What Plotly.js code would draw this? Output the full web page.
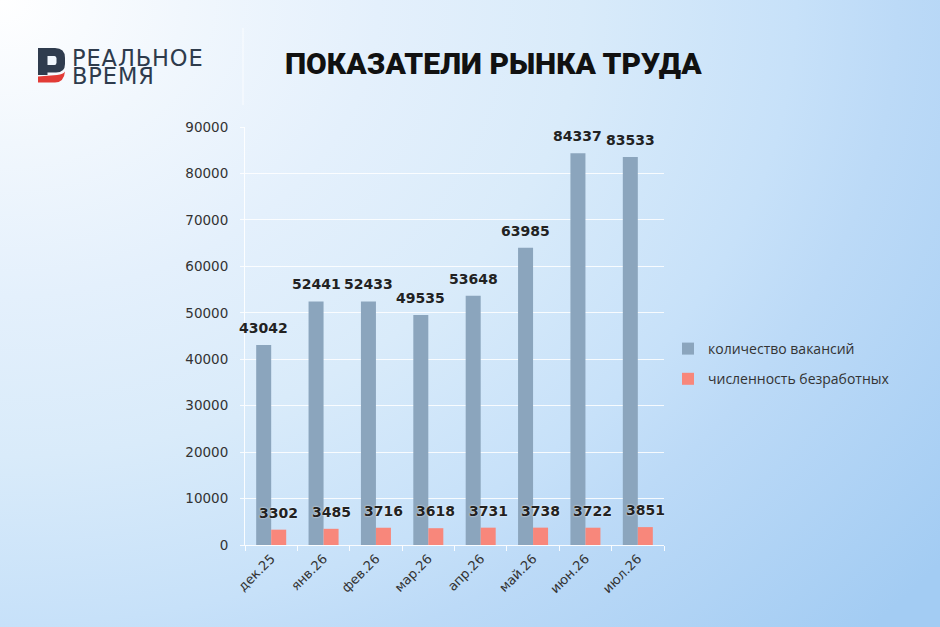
<!DOCTYPE html>
<html>
<head>
<meta charset="utf-8">
<script src="https://cdn.plot.ly/plotly-3.0.1.min.js"></script>
<style>
html,body{margin:0;padding:0;}
body{width:940px;height:627px;overflow:hidden;position:relative;
background:radial-gradient(ellipse 1020px 800px at 0 0,#ffffff 0%,#f1f7fd 18%,#e4f0fc 37%,#d9ebfa 57%,#c7e1f9 78%,#bcdaf7 88%,#a3ccf3 116%);}
#chart{width:940px;height:627px;}
.logo{position:absolute;left:72px;font-family:'DejaVu Sans',sans-serif;font-size:22.5px;
color:#2e3b4c;line-height:18px;height:18px;white-space:nowrap;letter-spacing:0.9px;}
</style>
</head>
<body>
<div id="chart"></div>
<div class="logo" style="top:48.5px">РЕАЛЬНОЕ</div>
<div class="logo" style="top:66.5px">ВРЕМЯ</div>
<script>
var categories = ["дек.25","янв.26","фев.26","мар.26","апр.26","май.26","июн.26","июл.26"];
var vacancies = [43042,52441,52433,49535,53648,63985,84337,83533];
var unemployed = [3302,3485,3716,3618,3731,3738,3722,3851];
var seriesNames = ["количество вакансий","численность безработных"];
var yTicks = [0,10000,20000,30000,40000,50000,60000,70000,80000,90000];

var W = 940, H = 627;
var M = {l:245, r:276, t:127, b:82};
var pw = W - M.l - M.r, ph = H - M.t - M.b;
function px(x){ return (x - M.l) / pw; }
function py(y){ return (H - M.b - y) / ph; }
function pathPx(cmds){
  return cmds.map(function(c){
    var s = c[0];
    for (var i = 1; i < c.length; i += 2) {
      s += (i > 1 ? ' ' : '') + px(c[i]).toFixed(5) + ',' + py(c[i+1]).toFixed(5);
    }
    return s;
  }).join(' ') + ' Z';
}

var blue = '#8ba5bd', red = '#f8877b';

var traces = [
  {type:'bar', x:categories, y:vacancies, name:seriesNames[0], legendgroup:'a',
   marker:{color:blue}, hoverinfo:'x+y'},
  {type:'bar', x:categories, y:unemployed, name:seriesNames[1], legendgroup:'b',
   marker:{color:red}, hoverinfo:'x+y'}
];

var labelFont = {family:'DejaVu Sans, sans-serif', size:14, color:'#222222', weight:'bold'};
var labelFont2 = {family:'DejaVu Sans, sans-serif', size:14, color:'#222222', weight:'bold',
  shadow:'0px 0px 2px #ffffff'};
var annotations = [];
categories.forEach(function(c, i){
  annotations.push({x:c, y:vacancies[i], xref:'x', yref:'y', text:String(vacancies[i]),
    showarrow:false, yanchor:'bottom', xanchor:'center', xshift:-7.5, yshift:7, font:labelFont});
  annotations.push({x:c, y:unemployed[i], xref:'x', yref:'y', text:String(unemployed[i]),
    showarrow:false, yanchor:'bottom', xanchor:'center', xshift:7.5, yshift:7, font:labelFont2});
});
annotations.push({xref:'paper', yref:'paper', x:px(493), y:py(64), xanchor:'center', yanchor:'middle',
  text:'ПОКАЗАТЕЛИ РЫНКА ТРУДА', showarrow:false,
  font:{family:'Roboto, sans-serif', size:30, color:'#111111', weight:900}});

var shapes = [
  {type:'path', xref:'paper', yref:'paper', fillcolor:'#2f3c4e', line:{width:0},
   path: pathPx([['M',38,48],['L',55,48],['Q',65,48,65,58],['L',65,64],['Q',65,72.5,56,72.5],['L',47.5,72.5],['L',47.5,75],['L',38,75]])},
  {type:'path', xref:'paper', yref:'paper', fillcolor:'#f1f7fd', line:{width:0},
   path: pathPx([['M',47.5,56],['L',54.5,56],['Q',56.5,56,56.5,58.5],['L',56.5,62.5],['Q',56.5,65,54.5,65],['L',47.5,65]])},
  {type:'path', xref:'paper', yref:'paper', fillcolor:'#e23b36', line:{width:0},
   path: pathPx([['M',38,76.5],['L',57,75],['Q',63.5,74,65,71.5],['Q',64,82.5,55,82.5],['L',38,82.5]])},
  {type:'line', xref:'paper', yref:'paper', x0:px(243), x1:px(243), y0:py(28), y1:py(105),
   line:{color:'rgba(255,255,255,0.8)', width:1}}
];

var layout = {
  width:W, height:H,
  margin:M,
  paper_bgcolor:'rgba(0,0,0,0)',
  plot_bgcolor:'rgba(0,0,0,0)',
  barmode:'group',
  bargap:0.427,
  bargroupgap:0,
  showlegend:true,
  legend:{x:px(668), y:py(333), xanchor:'left', yanchor:'top', bgcolor:'rgba(0,0,0,0)',
    font:{family:'Open Sans, sans-serif', size:14, color:'#333333'},
    traceorder:'grouped', tracegroupgap:9},
  xaxis:{type:'category', range:[-0.5, categories.length - 0.5], autorange:false,
    showgrid:false, showline:true, linecolor:'rgba(255,255,255,0.9)', linewidth:1,
    ticks:'outside', ticklen:5, tickcolor:'rgba(255,255,255,0.9)', tickson:'boundaries',
    tickangle:-45, tickfont:{family:'DejaVu Sans, sans-serif', size:13, color:'#333333'},
    fixedrange:true, automargin:false},
  yaxis:{range:[0,90000], tickvals:yTicks, ticktext:yTicks.map(String),
    showgrid:true, gridcolor:'rgba(255,255,255,0.85)', gridwidth:1,
    showline:true, linecolor:'rgba(255,255,255,0.9)', ticks:'outside', ticklen:4,
    tickcolor:'rgba(255,255,255,0.85)', zeroline:false, ticklabelstandoff:9,
    tickfont:{family:'DejaVu Sans, sans-serif', size:13.5, color:'#333333'},
    fixedrange:true, automargin:false},
  annotations:annotations,
  shapes:shapes,
  font:{family:'DejaVu Sans, sans-serif'}
};

Plotly.newPlot('chart', traces, layout, {displayModeBar:false, staticPlot:true});
</script>
</body>
</html>
